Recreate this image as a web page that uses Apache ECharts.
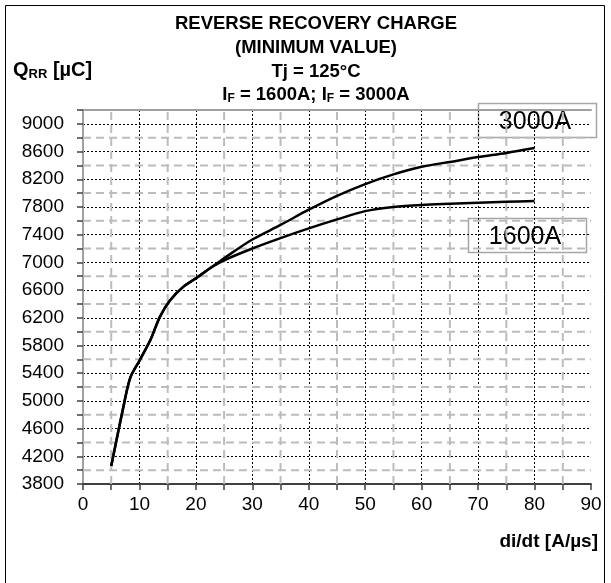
<!DOCTYPE html>
<html>
<head>
<meta charset="utf-8">
<script src="https://cdn.jsdelivr.net/npm/echarts@6/dist/echarts.min.js"></script>
<style>html,body{margin:0;padding:0;background:#fff}#c{width:611px;height:583px}</style>
</head>
<body>
<div id="c"></div>
<script>
// di/dt [A/µs] and Q_RR [µC]
const x3000 = [5, 7.4, 8.4, 10, 12, 13.6, 15.4, 17.8, 20, 23, 25, 30, 35, 40, 45, 50, 55, 60, 65, 70, 75, 80];
const q3000 = [4060, 5010, 5340, 5580, 5890, 6210, 6450, 6650, 6770, 6945, 7060, 7330, 7540, 7760, 7960, 8130, 8270, 8380, 8450, 8520, 8580, 8650];
const x1600 = [5, 7.4, 8.4, 10, 12, 13.6, 15.4, 17.8, 20, 23, 25, 30, 35, 40, 45, 50, 55, 60, 65, 70, 75, 80];
const q1600 = [4060, 5010, 5340, 5580, 5890, 6210, 6450, 6650, 6770, 6940, 7030, 7200, 7350, 7490, 7620, 7740, 7800, 7830, 7847, 7862, 7875, 7885];
const seriesNames = ['3000A', '1600A'];
const yLabelValues = [3800, 4200, 4600, 5000, 5400, 5800, 6200, 6600, 7000, 7400, 7800, 8200, 8600, 9000];
const xLabelValues = [0, 10, 20, 30, 40, 50, 60, 70, 80, 90];
const xMinorGrid = [5, 15, 25, 35, 45, 55, 65, 75, 85];
const yMinorGrid = [4000, 4400, 4800, 5200, 5600, 6000, 6400, 6800, 7200, 7600, 8000, 8400, 8800];
const X_MIN = 0, X_MAX = 90, Y_MIN = 3800, Y_MAX = 9200;

const chart = echarts.init(document.getElementById('c'), null, {renderer: 'canvas'});
const FONT = '"Liberation Sans", Arial, sans-serif';
const pair = (xs, ys) => xs.map((x, i) => [x, ys[i]]);
const GREY_DASH = {color: '#bcbcbc', type: [8, 5], width: 2};

chart.setOption({
  animation: false,
  backgroundColor: '#fff',
  grid: {left: 83, right: 20, top: 110, bottom: 99},
  xAxis: [
    {
      type: 'value', min: X_MIN, max: X_MAX, interval: 5, position: 'bottom',
      axisLine: {lineStyle: {color: '#404040', width: 2}},
      axisTick: {show: true, inside: false, length: 6, lineStyle: {color: '#404040', width: 1.5}},
      axisLabel: {
        margin: 11, color: '#000', fontFamily: FONT, fontSize: 19,
        formatter: v => (xLabelValues.indexOf(v) >= 0 ? String(v) : '')
      },
      splitLine: {show: false}
    },
    {
      type: 'value', min: X_MIN, max: X_MAX, interval: 10, position: 'top',
      axisLine: {show: true, lineStyle: {color: '#a0a0a0', width: 2}},
      axisTick: {show: false}, axisLabel: {show: false},
      splitLine: {show: true, showMinLine: false, showMaxLine: false, lineStyle: {color: '#000', type: [2, 2], width: 1}}
    }
  ],
  yAxis: [
    {
      type: 'value', min: Y_MIN, max: Y_MAX, interval: 200, position: 'left',
      axisLine: {show: true, lineStyle: {color: '#404040', width: 2}},
      axisTick: {show: true, inside: false, length: 6, lineStyle: {color: '#404040', width: 1.5}},
      axisLabel: {
        margin: 19, color: '#000', fontFamily: FONT, fontSize: 19,
        formatter: v => (yLabelValues.indexOf(v) >= 0 ? String(v) : '')
      },
      splitLine: {show: false}
    },
    {
      type: 'value', min: Y_MIN, max: Y_MAX, interval: 400, position: 'right',
      axisLine: {show: true, lineStyle: {color: '#a0a0a0', width: 2}},
      axisTick: {show: false}, axisLabel: {show: false},
      splitLine: {show: true, showMinLine: false, showMaxLine: false, lineStyle: {color: '#000', type: [2, 2], width: 1}}
    }
  ],
  series: [
    {
      name: 'minor grid h', type: 'custom', coordinateSystem: 'cartesian2d', xAxisIndex: 0, yAxisIndex: 0,
      silent: true, z: 5,
      data: yMinorGrid.map(v => [X_MIN, v]),
      renderItem: function (params, api) {
        const a = api.coord([X_MIN, api.value(1)]);
        const b = api.coord([X_MAX, api.value(1)]);
        return {type: 'line', shape: {x1: a[0], y1: a[1], x2: b[0], y2: b[1]}, style: {stroke: GREY_DASH.color, lineWidth: GREY_DASH.width, lineDash: GREY_DASH.type}};
      }
    },
    {
      name: 'minor grid v', type: 'custom', coordinateSystem: 'cartesian2d', xAxisIndex: 0, yAxisIndex: 0,
      silent: true, z: 5,
      data: xMinorGrid.map(v => [v, Y_MIN + 100]),
      renderItem: function (params, api) {
        const xv = api.value(0);
        const bottom = api.coord([xv, Y_MIN]);
        const top = api.coord([xv, Y_MAX]);
        const children = [];
        const dash = GREY_DASH.type[0], gap = GREY_DASH.type[1];
        for (let y = bottom[1]; y > top[1]; y -= dash + gap) {
          const h = Math.min(dash, y - top[1]);
          children.push({type: 'rect', shape: {x: bottom[0] - GREY_DASH.width / 2, y: y - h, width: GREY_DASH.width, height: h}, style: {fill: GREY_DASH.color}});
        }
        return {type: 'group', children: children};
      }
    },
    {
      name: seriesNames[0], type: 'line', xAxisIndex: 0, yAxisIndex: 0,
      data: pair(x3000, q3000), smooth: 0.3, showSymbol: false, symbol: 'none',
      lineStyle: {color: '#000', width: 2.5}, z: 10
    },
    {
      name: seriesNames[1], type: 'line', xAxisIndex: 0, yAxisIndex: 0,
      data: pair(x1600, q1600), smooth: 0.3, showSymbol: false, symbol: 'none',
      lineStyle: {color: '#000', width: 2.5}, z: 10
    }
  ],
  graphic: [
    {type: 'rect', shape: {x: 5.5, y: 5.5, width: 599, height: 620}, style: {fill: 'none', stroke: '#000', lineWidth: 1}, z: -10, silent: true},
    {
      type: 'text', x: 316, y: 12,
      style: {
        text: 'REVERSE RECOVERY CHARGE\n(MINIMUM VALUE)\nTj = 125°C',
        align: 'center', verticalAlign: 'top', fill: '#000',
        font: 'bold 18.5px ' + FONT, lineHeight: 24
      }
    },
    {
      type: 'text', x: 316, y: 85,
      style: {
        text: '{m|I}{s|F}{m| = 1600A; I}{s|F}{m| = 3000A}',
        align: 'center', verticalAlign: 'top', fill: '#000',
        rich: {
          m: {font: 'bold 18.5px ' + FONT, lineHeight: 20, verticalAlign: 'top', fill: '#000'},
          s: {font: 'bold 12px ' + FONT, lineHeight: 12, verticalAlign: 'bottom', fill: '#000'}
        }
      }
    },
    {
      type: 'text', x: 13, y: 60,
      style: {
        text: '{m|Q}{s|RR}{m| [µC]}',
        align: 'left', verticalAlign: 'top', fill: '#000',
        rich: {
          m: {font: 'bold 20px ' + FONT, lineHeight: 21, verticalAlign: 'top', fill: '#000'},
          s: {font: 'bold 13px ' + FONT, lineHeight: 13, verticalAlign: 'bottom', fill: '#000'}
        }
      }
    },
    {
      type: 'text', x: 598, y: 542,
      style: {text: 'di/dt [A/µs]', align: 'right', verticalAlign: 'middle', fill: '#000', font: 'bold 19px ' + FONT}
    },
    {
      type: 'group', z: 20,
      children: [
        {type: 'rect', shape: {x: 478.5, y: 103.5, width: 118, height: 34}, style: {fill: '#fff', stroke: '#a6a6a6', lineWidth: 1.5}},
        {type: 'text', x: 535, y: 122, style: {text: seriesNames[0], align: 'center', verticalAlign: 'middle', fill: '#000', font: '25px ' + FONT}}
      ]
    },
    {
      type: 'group', z: 20,
      children: [
        {type: 'rect', shape: {x: 468.5, y: 218.5, width: 118, height: 34}, style: {fill: '#fff', stroke: '#a6a6a6', lineWidth: 1.5}},
        {type: 'text', x: 525, y: 237, style: {text: seriesNames[1], align: 'center', verticalAlign: 'middle', fill: '#000', font: '25px ' + FONT}}
      ]
    }
  ]
});
</script>
</body>
</html>
